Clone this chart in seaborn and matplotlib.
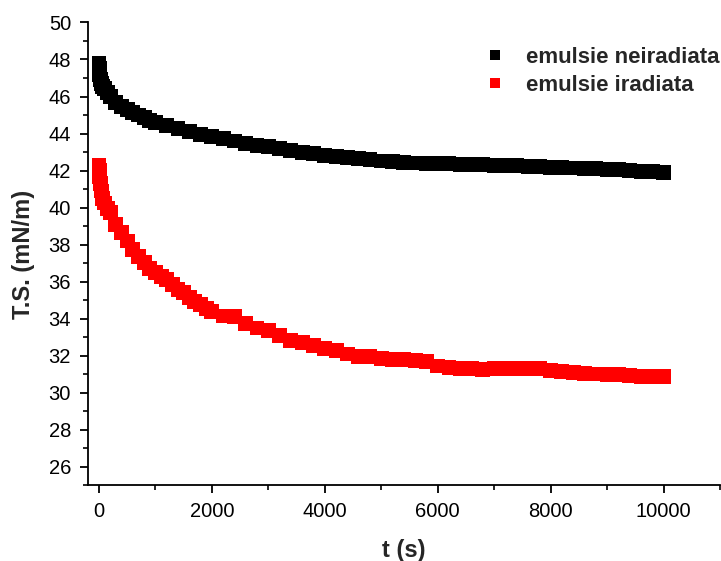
import matplotlib
matplotlib.use("Agg")
import matplotlib.pyplot as plt
from matplotlib.ticker import MultipleLocator
import pandas as pd
import seaborn as sns

# Surface tension (mN/m) versus time (s) for the two emulsions
t_neiradiata = [0, 5, 10, 20, 40, 70, 100, 150, 200, 300, 400, 500, 600, 700,
                800, 900, 1000, 1200, 1400, 1600, 1800, 2000, 2200, 2400, 2600,
                2800, 3000, 3200, 3400, 3600, 3800, 4000, 4200, 4400, 4600,
                4800, 5000, 5200, 5400, 5600, 5800, 6000, 6200, 6400, 6600,
                6800, 7000, 7200, 7400, 7600, 7800, 8000, 8200, 8400, 8600,
                8800, 9000, 9200, 9400, 9600, 9800, 10000]
ts_neiradiata = [47.8, 47.5, 47.2, 46.9, 46.7, 46.55, 46.45, 46.2, 46.0, 45.7,
                 45.45, 45.3, 45.15, 45.0, 44.85, 44.72, 44.6, 44.42, 44.26,
                 44.12, 43.97, 43.83, 43.72, 43.6, 43.48, 43.38, 43.3, 43.2,
                 43.1, 43.0, 42.9, 42.82, 42.76, 42.7, 42.64, 42.58, 42.52,
                 42.48, 42.44, 42.41, 42.4, 42.38, 42.37, 42.35, 42.33, 42.31,
                 42.3, 42.28, 42.26, 42.24, 42.21, 42.19, 42.17, 42.14, 42.12,
                 42.1, 42.07, 42.04, 42.0, 41.97, 41.93, 41.88]

t_iradiata = [0, 5, 10, 20, 40, 70, 100, 150, 200, 300, 400, 500, 600, 700,
              800, 900, 1000, 1100, 1200, 1300, 1400, 1500, 1600, 1700, 1800,
              1900, 2000, 2200, 2400, 2600, 2800, 3000, 3200, 3400, 3600,
              3800, 4000, 4200, 4400, 4600, 4800, 5000, 5200, 5400, 5600,
              5800, 6000, 6200, 6400, 6600, 6800, 7000, 7200, 7400, 7600,
              7800, 8000, 8200, 8400, 8600, 8800, 9000, 9200, 9400, 9600,
              9800, 10000]
ts_iradiata = [42.3, 42.0, 41.7, 41.3, 40.9, 40.5, 40.25, 39.95, 39.75, 39.1,
               38.65, 38.2, 37.75, 37.35, 37.05, 36.7, 36.5, 36.3, 36.1, 35.85,
               35.6, 35.4, 35.15, 34.95, 34.75, 34.55, 34.4, 34.15, 34.1,
               33.75, 33.5, 33.35, 33.1, 32.85, 32.7, 32.55, 32.4, 32.3, 32.1,
               31.95, 31.95, 31.85, 31.8, 31.78, 31.75, 31.7, 31.45, 31.38,
               31.33, 31.3, 31.25, 31.3, 31.3, 31.32, 31.32, 31.3, 31.22,
               31.17, 31.12, 31.05, 31.02, 31.0, 30.98, 30.95, 30.9, 30.9,
               30.88]

series_names = ["emulsie neiradiata", "emulsie iradiata"]
series_colors = ["#000000", "#ff0000"]

df = pd.concat([
    pd.DataFrame({"t": t_neiradiata, "ts": ts_neiradiata,
                  "serie": series_names[0]}),
    pd.DataFrame({"t": t_iradiata, "ts": ts_iradiata,
                  "serie": series_names[1]}),
], ignore_index=True)

sns.set_theme(style="ticks")
plt.rcParams["font.family"] = ["Liberation Sans", "DejaVu Sans"]

fig = plt.figure(figsize=(7.21, 5.61), dpi=100)
ax = fig.add_axes([0.1216, 0.1346, 0.8770, 0.8254])

sns.scatterplot(data=df, x="t", y="ts", hue="serie", hue_order=series_names,
                palette=dict(zip(series_names, series_colors)),
                marker="s", s=115, linewidth=0, ax=ax)

ax.set_xlim(-200, 11000)
ax.set_ylim(25, 50)
ax.xaxis.set_major_locator(MultipleLocator(2000))
ax.xaxis.set_minor_locator(MultipleLocator(1000))
ax.yaxis.set_major_locator(MultipleLocator(2))
ax.yaxis.set_minor_locator(MultipleLocator(1))

for side in ("top", "right"):
    ax.spines[side].set_visible(False)
for side in ("left", "bottom"):
    ax.spines[side].set_linewidth(1.3)
    ax.spines[side].set_color("black")

ax.tick_params(axis="both", which="major", direction="out", length=6,
               width=1.3, labelsize=14.5, colors="black", pad=6)
ax.tick_params(axis="both", which="minor", direction="out", length=3.5,
               width=1.2, colors="black")

ax.set_xlabel("t (s)", fontsize=17, fontweight="bold", labelpad=13)
ax.set_ylabel("T.S. (mN/m)", fontsize=17, fontweight="bold", labelpad=10)

sns.move_legend(ax, "upper left", bbox_to_anchor=(0.595, 0.99), title=None,
                frameon=False, prop={"weight": "bold", "size": 16},
                markerscale=1.0, handletextpad=0.9, labelspacing=0.3,
                handlelength=1.0)
for h in ax.get_legend().legend_handles:
    h.set_markersize(7)

fig.savefig("out.png", dpi=100)
